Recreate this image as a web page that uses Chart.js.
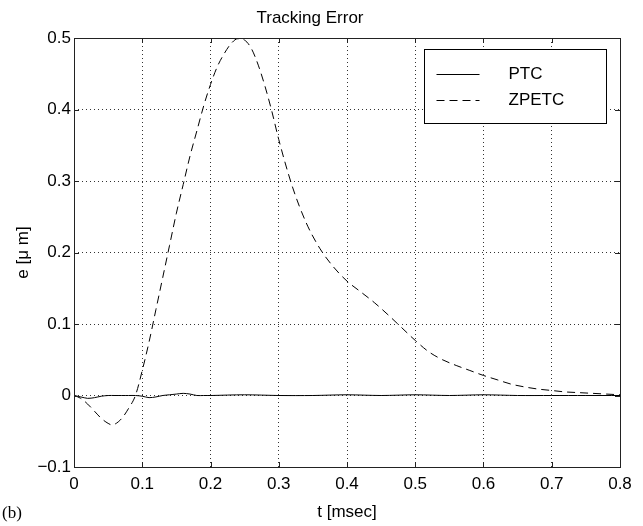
<!DOCTYPE html>
<html>
<head>
<meta charset="utf-8">
<script src="https://cdn.jsdelivr.net/npm/chart.js@4.4.1/dist/chart.umd.min.js"></script>
<style>
  html, body { margin: 0; padding: 0; background: #fff; }
  #wrap { width: 643px; height: 526px; }
</style>
</head>
<body>
<div id="wrap"><canvas id="c" width="643" height="526"></canvas></div>
<script>
// ---- data ----
const chartTitle = 'Tracking Error';
const xTitle = 't [msec]';
const yTitle = 'e [\u03bc m]';
const panelLabel = '(b)';
const seriesNames = ['PTC', 'ZPETC'];

const xTickLabels = ['0', '0.1', '0.2', '0.3', '0.4', '0.5', '0.6', '0.7', '0.8'];
const yTickLabels = ['\u22120.1', '0', '0.1', '0.2', '0.3', '0.4', '0.5'];

const tPTC = [0, 0.01, 0.02, 0.03, 0.04, 0.05, 0.06, 0.07, 0.08, 0.09, 0.10, 0.11, 0.12, 0.13, 0.14, 0.15, 0.16, 0.17, 0.18, 0.19, 0.20, 0.25, 0.30, 0.35, 0.40, 0.45, 0.50, 0.55, 0.60, 0.65, 0.70, 0.75, 0.80];
const ePTC = [0, -0.002, -0.004, -0.003, -0.001, 0, 0, 0, 0, 0, -0.001, -0.003, -0.002, 0, 0.001, 0.002, 0.003, 0.002, 0, 0, 0, 0.001, 0, 0, 0.001, 0, 0.001, 0, 0.001, 0, 0, 0, 0];

const tZPETC = [0, 0.01, 0.02, 0.03, 0.04, 0.05, 0.055, 0.06, 0.07, 0.08, 0.09, 0.10, 0.11, 0.12, 0.13, 0.14, 0.15, 0.16, 0.17, 0.18, 0.19, 0.20, 0.21, 0.22, 0.23, 0.24, 0.25, 0.26, 0.27, 0.28, 0.29, 0.30, 0.32, 0.34, 0.36, 0.38, 0.40, 0.42, 0.44, 0.46, 0.48, 0.50, 0.52, 0.54, 0.56, 0.58, 0.60, 0.62, 0.64, 0.66, 0.68, 0.70, 0.72, 0.74, 0.76, 0.78, 0.80];
const eZPETC = [0, -0.004, -0.012, -0.022, -0.032, -0.039, -0.041, -0.040, -0.032, -0.018, 0.0, 0.035, 0.075, 0.12, 0.165, 0.21, 0.255, 0.295, 0.335, 0.37, 0.405, 0.435, 0.46, 0.478, 0.492, 0.499, 0.497, 0.485, 0.462, 0.432, 0.397, 0.358, 0.292, 0.242, 0.206, 0.18, 0.16, 0.145, 0.13, 0.113, 0.095, 0.077, 0.061, 0.05, 0.042, 0.035, 0.028, 0.022, 0.016, 0.012, 0.009, 0.007, 0.005, 0.004, 0.003, 0.002, 0.001];

// ---- helpers ----
const FONT = 'Liberation Sans, Arial, Helvetica, sans-serif';
const FS = 17;
const toXY = (xs, ys) => xs.map((x, i) => ({ x: x, y: ys[i] }));

// frame, inward ticks, legend, panel label
const decor = {
  id: 'decor',
  afterDraw(chart) {
    const ctx = chart.ctx;
    const a = chart.chartArea;
    const xs = chart.scales.x, ys = chart.scales.y;
    ctx.save();
    // axes box
    ctx.strokeStyle = '#222';
    ctx.lineWidth = 1;
    ctx.setLineDash([]);
    ctx.strokeRect(Math.round(a.left) + 0.5, Math.round(a.top) + 0.5, Math.round(a.right - a.left), Math.round(a.bottom - a.top));
    // inward ticks
    const tl = 5;
    ctx.beginPath();
    xs.ticks.forEach(t => {
      const px = Math.round(xs.getPixelForValue(t.value)) + 0.5;
      ctx.moveTo(px, a.bottom); ctx.lineTo(px, a.bottom - tl);
      ctx.moveTo(px, a.top); ctx.lineTo(px, a.top + tl);
    });
    ys.ticks.forEach(t => {
      const py = Math.round(ys.getPixelForValue(t.value)) + 0.5;
      ctx.moveTo(a.left, py); ctx.lineTo(a.left + tl, py);
      ctx.moveTo(a.right, py); ctx.lineTo(a.right - tl, py);
    });
    ctx.stroke();

    // legend
    const lw = 182, lh = 74;
    const lx = Math.round(a.right - 14 - lw) + 0.5;
    const ly = Math.round(a.top + 11) + 0.5;
    ctx.fillStyle = '#fff';
    ctx.fillRect(lx, ly, lw, lh);
    ctx.strokeStyle = '#000';
    ctx.strokeRect(lx, ly, lw, lh);
    ctx.font = FS + 'px ' + FONT;
    ctx.textBaseline = 'middle';
    ctx.textAlign = 'left';
    chart.data.datasets.forEach((ds, i) => {
      const yy = ly + 24 + i * 26;
      ctx.beginPath();
      ctx.strokeStyle = ds.borderColor;
      ctx.lineWidth = ds.borderWidth;
      ctx.setLineDash(ds.borderDash || []);
      ctx.moveTo(lx + 12, Math.round(yy) + 0.5);
      ctx.lineTo(lx + 55, Math.round(yy) + 0.5);
      ctx.stroke();
      ctx.setLineDash([]);
      ctx.fillStyle = '#000';
      ctx.fillText(ds.label, lx + 84, yy + 1);
    });

    // panel label
    ctx.font = '17px Liberation Serif, Times New Roman, serif';
    ctx.fillStyle = '#000';
    ctx.textAlign = 'left';
    ctx.textBaseline = 'middle';
    ctx.fillText(panelLabel, 2, 514);
    ctx.restore();
  }
};

const gridColor = (ctx) => {
  const n = ctx.scale.ticks.length;
  return (ctx.index === 0 || ctx.index === n - 1) ? 'rgba(0,0,0,0)' : '#333';
};

new Chart(document.getElementById('c'), {
  type: 'line',
  data: {
    datasets: [
      {
        label: seriesNames[0],
        data: toXY(tPTC, ePTC),
        borderColor: '#000',
        borderWidth: 1,
        pointRadius: 0,
        fill: false,
        tension: 0.3
      },
      {
        label: seriesNames[1],
        data: toXY(tZPETC, eZPETC),
        borderColor: '#000',
        borderWidth: 1,
        borderDash: [8, 5],
        pointRadius: 0,
        fill: false,
        cubicInterpolationMode: 'monotone'
      }
    ]
  },
  options: {
    responsive: false,
    animation: false,
    devicePixelRatio: 1,
    layout: { padding: { left: 0, right: 23, top: 0, bottom: 0 } },
    plugins: {
      legend: { display: false },
      tooltip: { enabled: false },
      title: {
        display: true,
        text: chartTitle,
        color: '#000',
        font: { family: FONT, size: FS, weight: 'normal' },
        padding: { top: 8, bottom: 9.6 }
      }
    },
    scales: {
      x: {
        type: 'linear',
        min: 0, max: 0.8,
        ticks: {
          stepSize: 0.1,
          color: '#000',
          padding: 7,
          maxRotation: 0,
          autoSkip: false,
          font: { family: FONT, size: FS },
          callback: (v, i) => xTickLabels[i]
        },
        grid: { color: gridColor, drawTicks: false, lineWidth: 1 },
        border: { display: false, dash: [1, 3] },
        title: {
          display: true,
          text: xTitle,
          color: '#000',
          font: { family: FONT, size: FS },
          padding: { top: 0, bottom: 3 }
        },
        afterFit: (s) => { s.height = 59; }
      },
      y: {
        type: 'linear',
        min: -0.1, max: 0.5,
        ticks: {
          stepSize: 0.1,
          color: '#000',
          padding: 3,
          autoSkip: false,
          font: { family: FONT, size: FS },
          callback: (v, i) => yTickLabels[i]
        },
        grid: { color: gridColor, drawTicks: false, lineWidth: 1 },
        border: { display: false, dash: [1, 3] },
        title: {
          display: true,
          text: yTitle,
          color: '#000',
          font: { family: FONT, size: FS },
          padding: { top: 13, bottom: 0 }
        },
        afterFit: (s) => { s.width = 74; }
      }
    }
  },
  plugins: [decor]
});
</script>
</body>
</html>
